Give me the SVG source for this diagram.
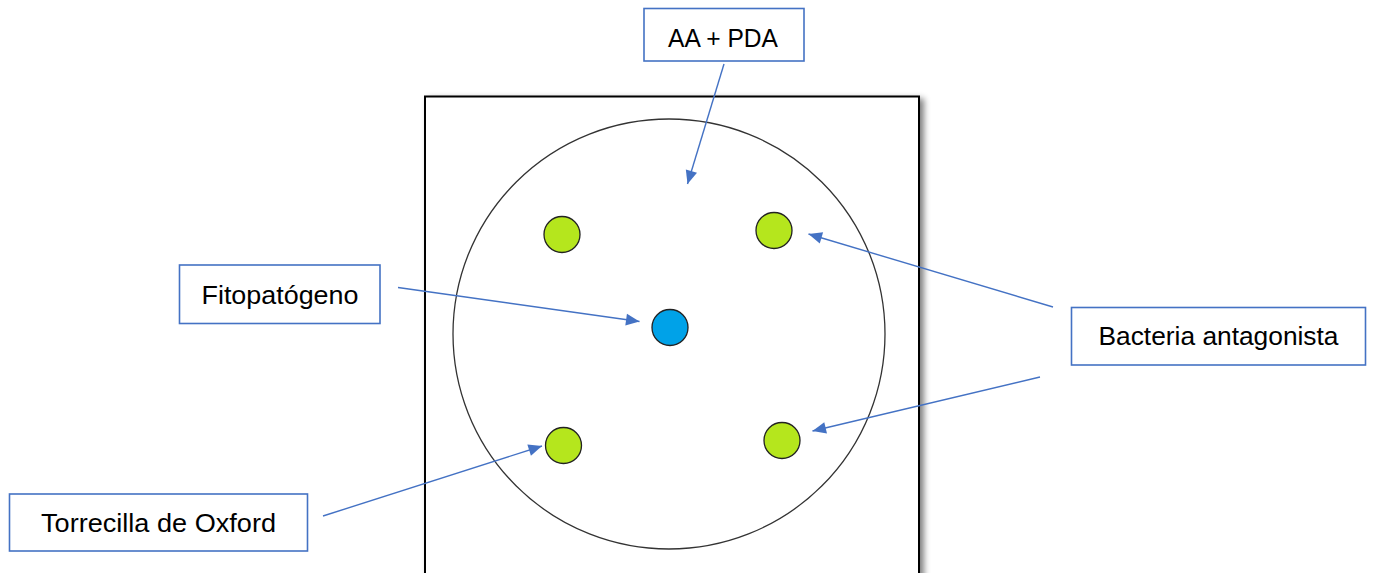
<svg xmlns="http://www.w3.org/2000/svg" width="1373" height="573" viewBox="0 0 1373 573">
<style>
.box{fill:#fff;stroke:#4472C4;stroke-width:1.6}
.lbl{font-family:"Liberation Sans",Arial,sans-serif;font-size:25.5px;fill:#000;text-anchor:middle}
.con{stroke:#4472C4;stroke-width:1.4;fill:none;marker-end:url(#ah)}
.g{fill:#B5E61D;stroke:#222;stroke-width:1.3}
.b{fill:#00A2E8;stroke:#222;stroke-width:1.3}
</style>
<defs>
<marker id="ah" viewBox="0 0 10 10" refX="10" refY="5" markerWidth="10" markerHeight="9" markerUnits="userSpaceOnUse" orient="auto" overflow="visible">
<path d="M0,0 L10,5 L0,10 z" fill="#4472C4" transform="translate(-5,-1.5) scale(1.5,1.3)"/>
</marker>
<filter id="sh" x="-5%" y="-5%" width="115%" height="115%">
<feGaussianBlur in="SourceAlpha" stdDeviation="3"/>
<feOffset dx="4" dy="3"/>
<feComponentTransfer><feFuncA type="linear" slope="0.5"/></feComponentTransfer>
<feMerge><feMergeNode/><feMergeNode in="SourceGraphic"/></feMerge>
</filter>
</defs>
<rect width="1373" height="573" fill="#fff"/>
<g id="plate">
<rect x="425" y="96.5" width="494" height="500" fill="#fff" stroke="#000" stroke-width="2" filter="url(#sh)"/>
<ellipse cx="669" cy="334" rx="216" ry="215" fill="none" stroke="#333" stroke-width="1.3"/>
</g>
<g id="dot-tl"><circle class="g" cx="562" cy="234.5" r="18"/></g>
<g id="dot-tr"><circle class="g" cx="774" cy="230.5" r="18"/></g>
<g id="dot-center"><circle class="b" cx="670" cy="327.5" r="18"/></g>
<g id="dot-bl"><circle class="g" cx="563.5" cy="445.5" r="18"/></g>
<g id="dot-br"><circle class="g" cx="782" cy="440.5" r="18"/></g>
<g id="connectors">
<line class="con" x1="724" y1="64" x2="687.5" y2="184"/>
<line class="con" x1="398" y1="287.5" x2="639.5" y2="321.5"/>
<line class="con" x1="1053" y1="307" x2="808.5" y2="234"/>
<line class="con" x1="1040" y1="377" x2="812.5" y2="431"/>
<line class="con" x1="323" y1="516" x2="542" y2="446"/>
</g>
<g id="n-aapda">
<rect class="box" x="644" y="8.5" width="160" height="52.5"/>
<text class="lbl" x="723" y="47" textLength="110" lengthAdjust="spacingAndGlyphs">AA + PDA</text>
</g>
<g id="n-fito">
<rect class="box" x="179.5" y="265" width="200.5" height="58.5"/>
<text class="lbl" x="280" y="303.5" textLength="157" lengthAdjust="spacingAndGlyphs">Fitopatógeno</text>
</g>
<g id="n-bact">
<rect class="box" x="1071.5" y="307.5" width="294" height="57.5"/>
<text class="lbl" x="1218.5" y="345" textLength="240" lengthAdjust="spacingAndGlyphs">Bacteria antagonista</text>
</g>
<g id="n-torre">
<rect class="box" x="9.5" y="494" width="298" height="57"/>
<text class="lbl" x="158.5" y="532" textLength="235" lengthAdjust="spacingAndGlyphs">Torrecilla de Oxford</text>
</g>
</svg>
